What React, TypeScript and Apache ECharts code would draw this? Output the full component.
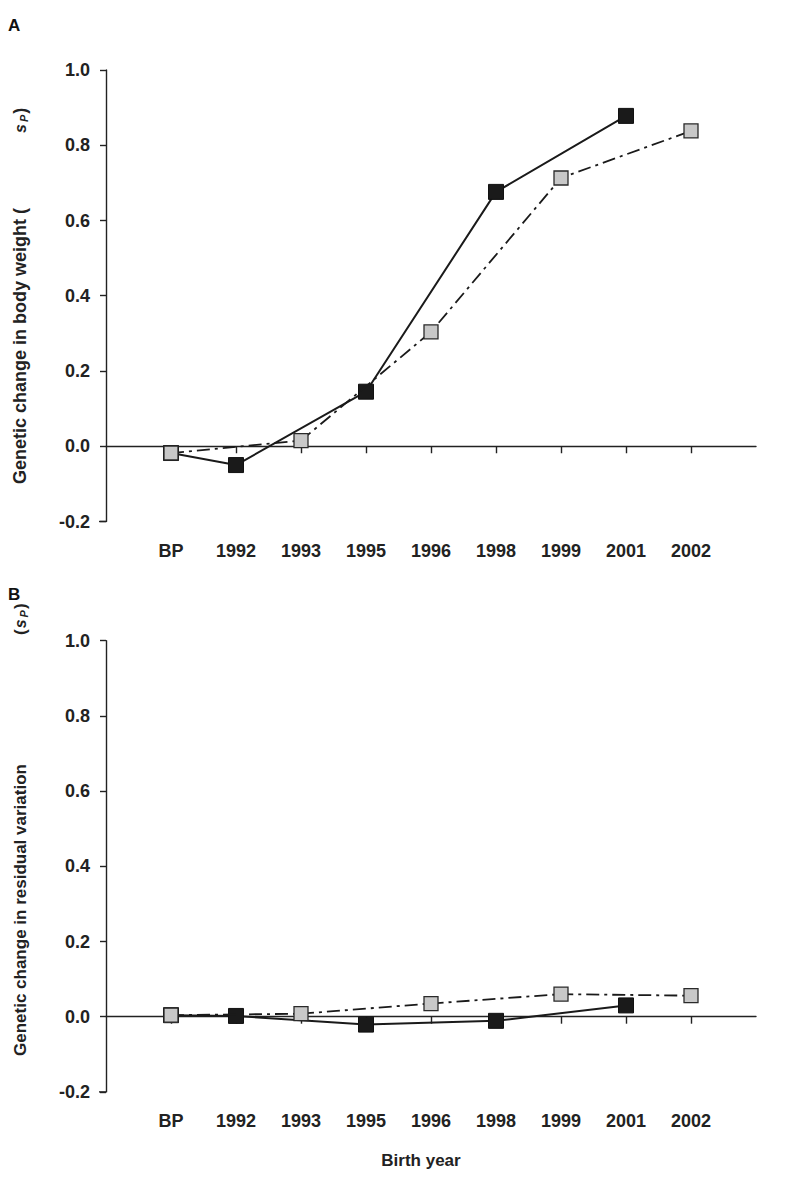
import React, { useEffect, useRef } from "react";
import * as echarts from "echarts";

// Category labels (index 0 and 10 are empty padding slots of the axis)
const categories = ["", "BP", "1992", "1993", "1995", "1996", "1998", "1999", "2001", "2002", " "];

// Panel A: genetic change in body weight
const blackCatsA = ["BP", "1992", "1995", "1998", "2001"];
const blackValsA = [-0.018, -0.05, 0.145, 0.676, 0.878];
const greyCatsA = ["BP", "1993", "1996", "1999", "2002"];
const greyValsA = [-0.018, 0.015, 0.304, 0.713, 0.838];

// Panel B: genetic change in residual variation
const blackCatsB = ["BP", "1992", "1995", "1998", "2001"];
const blackValsB = [0.004, 0.002, -0.021, -0.011, 0.03];
const greyCatsB = ["BP", "1993", "1996", "1999", "2002"];
const greyValsB = [0.004, 0.008, 0.035, 0.06, 0.056];

const yTicks = { min: -0.2, max: 1.0, interval: 0.2 };

const FONT = "'Liberation Sans', Arial, Helvetica, sans-serif";

function pairs(cats: string[], vals: number[]) {
  return cats.map((c, i) => [categories.indexOf(c), vals[i]]);
}

export default function App() {
  const ref = useRef<HTMLDivElement>(null);

  useEffect(() => {
    if (!ref.current) return;
    const chart = echarts.init(ref.current, null, { renderer: "svg" });

    const axisColor = "#222";
    const mkX = (gridIndex: number) => ({
      type: "category",
      gridIndex,
      data: categories,
      boundaryGap: false,
      axisLine: { show: true, lineStyle: { color: axisColor, width: 1.4 } },
      axisTick: {
        show: true,
        length: 7,
        lineStyle: { color: axisColor, width: 1.4 },
        interval: (idx: number) => idx > 0 && idx < categories.length - 1,
      },
      axisLabel: {
        interval: 0,
        margin: 20,
        color: "#222",
        fontFamily: FONT,
        fontWeight: "bold",
        fontSize: 18,
      },
      splitLine: { show: false },
    });
    const mkY = (gridIndex: number) => ({
      type: "value",
      gridIndex,
      min: yTicks.min,
      max: yTicks.max,
      interval: yTicks.interval,
      axisLine: { show: true, lineStyle: { color: axisColor, width: 1.4 } },
      axisTick: { show: true, length: 6, lineStyle: { color: axisColor, width: 1.4 } },
      axisLabel: {
        margin: 16,
        color: "#222",
        fontFamily: FONT,
        fontWeight: "bold",
        fontSize: 18,
        formatter: (v: number) => v.toFixed(1),
      },
      splitLine: { show: false },
    });

    const blackSeries = (xi: number, data: number[][]) => ({
      type: "line",
      xAxisIndex: xi,
      yAxisIndex: xi,
      data,
      symbol: "rect",
      symbolSize: 15,
      lineStyle: { color: "#1a1a1a", width: 2 },
      itemStyle: { color: "#1a1a1a", borderColor: "#111", borderWidth: 1 },
      z: 2,
    });
    const greySeries = (xi: number, data: number[][]) => ({
      type: "line",
      xAxisIndex: xi,
      yAxisIndex: xi,
      data,
      symbol: "rect",
      symbolSize: 14,
      lineStyle: { color: "#1a1a1a", width: 1.8, type: [13, 5, 3, 5] },
      itemStyle: { color: "#c8c8c8", borderColor: "#2a2a2a", borderWidth: 1.3 },
      z: 3,
    });

    const titleFont = (size: number) => `bold ${size}px ${FONT}`;
    const richSigma = (size: number) => ({
      s: { fontFamily: FONT, fontStyle: "italic", fontWeight: "bold", fontSize: 16, fill: "#222", padding: [0, 2, 0, 1] },
      p: { fontFamily: FONT, fontStyle: "italic", fontWeight: "bold", fontSize: 11, fill: "#222", padding: [7, 1, 0, 0] },
      c: { fontFamily: FONT, fontWeight: "bold", fontSize: size, fill: "#222" },
    });

    chart.setOption({
      animation: false,
      backgroundColor: "#fff",
      grid: [
        { left: 106, right: 35, top: 70, height: 451.5 },
        { left: 106, right: 35, top: 640.7, height: 451.2 },
      ],
      xAxis: [mkX(0), mkX(1)],
      yAxis: [mkY(0), mkY(1)],
      series: [
        blackSeries(0, pairs(blackCatsA, blackValsA)),
        greySeries(0, pairs(greyCatsA, greyValsA)),
        blackSeries(1, pairs(blackCatsB, blackValsB)),
        greySeries(1, pairs(greyCatsB, greyValsB)),
      ],
      graphic: [
        // small x-axis overhang left of the y axis, as in the original plot
        { type: "line", shape: { x1: 99, y1: 521.5, x2: 106, y2: 521.5 }, style: { stroke: axisColor, lineWidth: 1.4 } },
        { type: "line", shape: { x1: 99, y1: 1091.9, x2: 106, y2: 1091.9 }, style: { stroke: axisColor, lineWidth: 1.4 } },
        { type: "text", left: 8, top: 17, style: { text: "A", font: titleFont(17), fill: "#111" } },
        { type: "text", left: 8, top: 586, style: { text: "B", font: titleFont(17), fill: "#111" } },
        {
          type: "text",
          x: 20,
          y: 484,
          rotation: Math.PI / 2,
          style: {
            text: "Genetic change in body weight (",
            font: titleFont(18),
            fill: "#222",
            textAlign: "left",
            textVerticalAlign: "middle",
          },
        },
        {
          type: "text",
          x: 20,
          y: 134,
          rotation: Math.PI / 2,
          style: {
            text: "{s|s}{p|P}{c|)}",
            textAlign: "left",
            textVerticalAlign: "middle",
            rich: richSigma(18),
          },
        },
        {
          type: "text",
          x: 20,
          y: 1056,
          rotation: Math.PI / 2,
          style: {
            text: "Genetic change in residual variation",
            font: titleFont(17),
            fill: "#222",
            textAlign: "left",
            textVerticalAlign: "middle",
          },
        },
        {
          type: "text",
          x: 20,
          y: 635,
          rotation: Math.PI / 2,
          style: {
            text: "{c|(}{s|s}{p|P}{c|)}",
            textAlign: "left",
            textVerticalAlign: "middle",
            rich: richSigma(17),
          },
        },
        {
          type: "text",
          x: 421,
          y: 1160,
          style: {
            text: "Birth year",
            font: titleFont(17),
            fill: "#222",
            textAlign: "center",
            textVerticalAlign: "middle",
          },
        },
      ],
    });

    return () => chart.dispose();
  }, []);

  return (
    <div
      ref={ref}
      style={{ position: "absolute", left: 0, top: 0, width: 791, height: 1180, background: "#fff" }}
    />
  );
}
